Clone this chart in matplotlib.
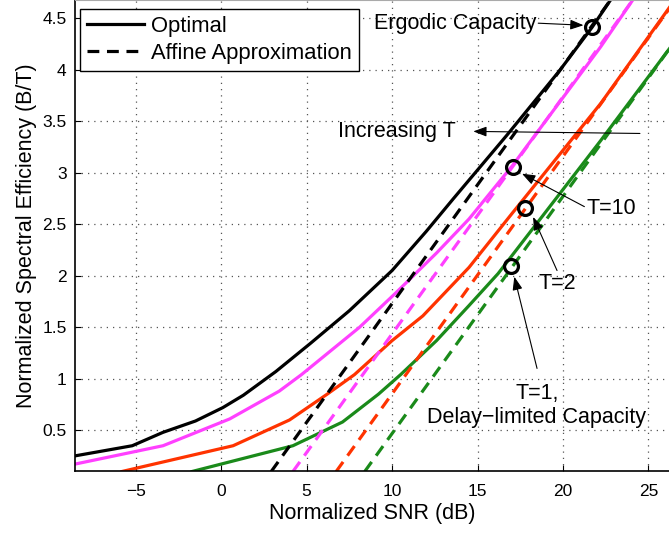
import matplotlib
matplotlib.use('Agg')
import matplotlib.pyplot as plt

plt.rcParams['font.family'] = ['Liberation Sans', 'DejaVu Sans']

# optimal (ergodic capacity) and T-dependent curves
opt_x = [-8.6, -5.2, -3.4, -1.5, 0.1, 1.3, 3.2, 5.2, 7.5, 10.0, 12.0, 13.6, 16.7, 19.8, 21.7, 22.8]
opt_y = [0.25, 0.35, 0.48, 0.59, 0.72, 0.84, 1.07, 1.34, 1.66, 2.05, 2.43, 2.75, 3.36, 3.99, 4.41, 4.68]

t10_x = [-8.6, -3.4, 0.5, 3.4, 4.7, 8.1, 10.2, 12.6, 14.5, 17.05, 22.2, 24.1]
t10_y = [0.17, 0.35, 0.61, 0.88, 1.04, 1.50, 1.83, 2.22, 2.55, 3.07, 4.22, 4.68]

t2_x = [-5.8, 0.7, 4.0, 6.2, 7.8, 10.0, 11.8, 14.5, 17.0, 22.2, 26.3]
t2_y = [0.10, 0.35, 0.60, 0.85, 1.04, 1.37, 1.61, 2.08, 2.60, 3.67, 4.62]

t1_x = [-1.7, 4.2, 7.1, 9.2, 10.5, 12.6, 14.5, 16.2, 18.9, 22.2, 26.3]
t1_y = [0.10, 0.35, 0.58, 0.85, 1.04, 1.37, 1.71, 2.02, 2.60, 3.31, 4.22]

# affine approximations (straight lines, end points)
aff_opt_x = [2.93, 22.8]
aff_opt_y = [0.10, 4.68]
aff_t10_x = [4.2, 24.1]
aff_t10_y = [0.10, 4.68]
aff_t2_x = [6.73, 26.3]
aff_t2_y = [0.10, 4.61]
aff_t1_x = [8.4, 26.3]
aff_t1_y = [0.10, 4.22]

# circled points
mark_x = [21.7, 17.05, 17.75, 16.95]
mark_y = [4.41, 3.05, 2.66, 2.09]

col_opt = 'black'
col_t10 = '#ff40ff'
col_t2 = '#ff3300'
col_t1 = '#1a8a1a'

fig = plt.figure(figsize=(6.69, 5.33), dpi=100)
ax = fig.add_axes([0.1121, 0.1154, 0.8879, 0.8846])

lw = 2.3
dash = (0, (3.7, 2.4))
ax.plot(opt_x, opt_y, color=col_opt, lw=lw, label='Optimal')
ax.plot(t10_x, t10_y, color=col_t10, lw=lw)
ax.plot(t2_x, t2_y, color=col_t2, lw=lw)
ax.plot(t1_x, t1_y, color=col_t1, lw=lw)

ax.plot(aff_opt_x, aff_opt_y, color=col_opt, lw=lw, linestyle=dash, label='Affine Approximation')
ax.plot(aff_t10_x, aff_t10_y, color=col_t10, lw=lw, linestyle=dash)
ax.plot(aff_t2_x, aff_t2_y, color=col_t2, lw=lw, linestyle=dash)
ax.plot(aff_t1_x, aff_t1_y, color=col_t1, lw=lw, linestyle=dash)

ax.plot(mark_x, mark_y, 'o', ms=10, mfc='none', mec='black', mew=2.3, zorder=5)

ax.set_xlim(-8.55, 26.2)
ax.set_ylim(0.1, 4.675)
ax.set_xticks([-5, 0, 5, 10, 15, 20, 25])
ax.set_yticks([0.5, 1, 1.5, 2, 2.5, 3, 3.5, 4, 4.5])
ax.set_yticklabels(['0.5', '1', '1.5', '2', '2.5', '3', '3.5', '4', '4.5'])
ax.tick_params(direction='in', length=4, labelsize=12.5)
ax.tick_params(axis='x', pad=9)
ax.tick_params(axis='y', pad=6)
ax.grid(True, linestyle=(0, (1, 4)), color='#555555', linewidth=0.9)
ax.spines['right'].set_visible(False)
ax.spines['top'].set_color('#aaaaaa')
for s in ['left', 'bottom']:
    ax.spines[s].set_linewidth(1.2)

ax.set_xlabel('Normalized SNR (dB)', fontsize=15.5, labelpad=3)
ax.set_ylabel('Normalized Spectral Efficiency (B/T)', fontsize=15.5, labelpad=4)

leg = ax.legend(loc='upper left', bbox_to_anchor=(0.0084, 0.981), borderaxespad=0,
                fontsize=15.8, frameon=True, fancybox=False, edgecolor='black',
                framealpha=1, handlelength=2.6, handletextpad=0.35,
                labelspacing=0.3, borderpad=0.3)
leg.get_frame().set_linewidth(1.0)

arrow = dict(arrowstyle='-|>,head_length=0.8,head_width=0.3', color='black', lw=0.8,
             shrinkA=0, shrinkB=0)
fs = 15.5
ax.annotate('', xy=(21.2, 4.43), xytext=(18.55, 4.45), arrowprops=arrow)
ax.text(18.45, 4.45, 'Ergodic Capacity', ha='right', va='center', fontsize=fs)

ax.annotate('', xy=(14.75, 3.40), xytext=(24.5, 3.38), arrowprops=arrow)
ax.text(13.7, 3.40, 'Increasing T', ha='right', va='center', fontsize=fs)

ax.annotate('', xy=(17.6, 2.99), xytext=(21.25, 2.67), arrowprops=arrow)
ax.text(21.4, 2.65, 'T=10', ha='left', va='center', fontsize=fs)

ax.annotate('', xy=(18.25, 2.57), xytext=(19.65, 2.05), arrowprops=arrow)
ax.text(18.58, 1.92, 'T=2', ha='left', va='center', fontsize=fs)

ax.annotate('', xy=(17.15, 1.99), xytext=(18.48, 1.10), arrowprops=arrow)
ax.text(18.47, 0.74, 'T=1,\nDelay\u2212limited Capacity', ha='center', va='center',
        multialignment='center', fontsize=fs, linespacing=1.15)

fig.savefig('out.png', dpi=100)
